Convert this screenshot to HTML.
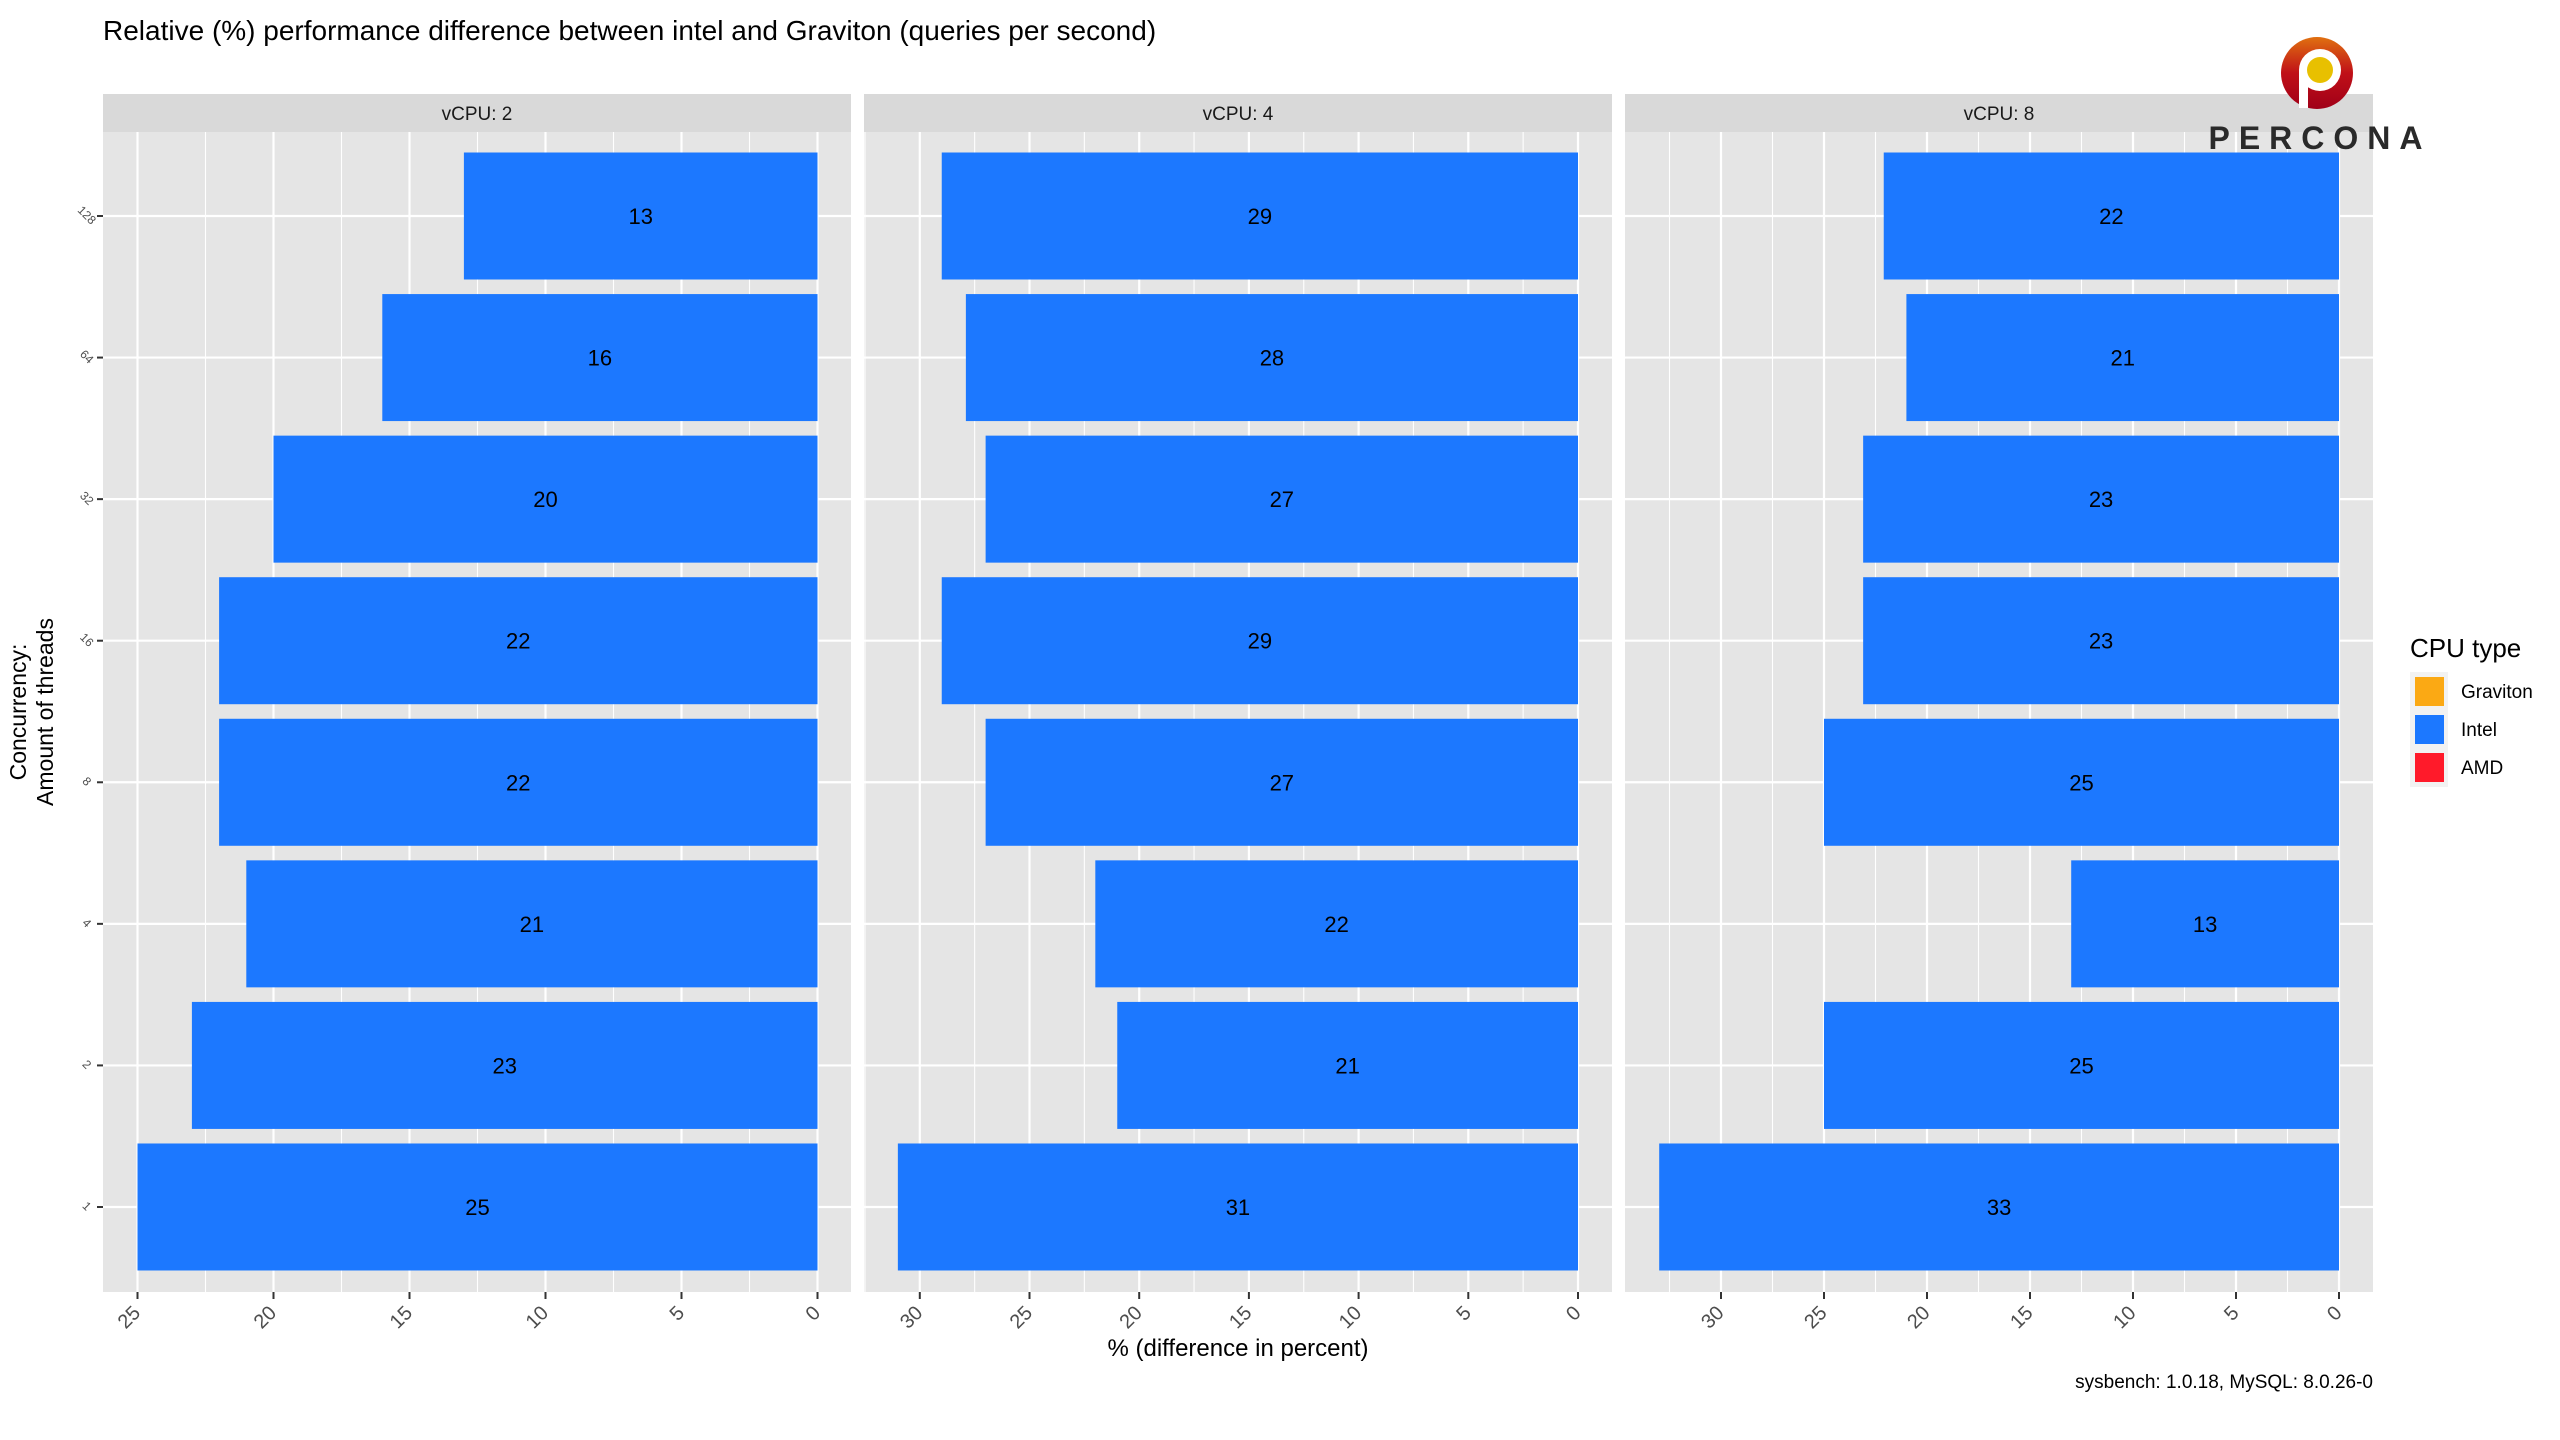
<!DOCTYPE html>
<html><head><meta charset="utf-8"><style>
html,body{margin:0;padding:0;background:#fff;}
svg{display:block;font-family:"Liberation Sans",Arial,sans-serif;}
</style></head><body>
<svg id="s" width="2560" height="1440" viewBox="0 0 2560 1440" xmlns="http://www.w3.org/2000/svg">
<rect width="2560" height="1440" fill="#fff"/>
<text x="103" y="40" font-size="28" fill="#000">Relative (%) performance difference between intel and Graviton (queries per second)</text>
<g id="g"></g>
<text transform="translate(32,712) rotate(-90)" text-anchor="middle" font-size="23" fill="#000"><tspan x="0" dy="-6">Concurrency:</tspan><tspan x="0" dy="27">Amount of threads</tspan></text>
<text x="1238" y="1356" text-anchor="middle" font-size="24" fill="#000">% (difference in percent)</text>
<text x="2373" y="1388" text-anchor="end" font-size="19" fill="#000">sysbench: 1.0.18, MySQL: 8.0.26-0</text>
<text x="2410" y="657" font-size="26" fill="#000">CPU type</text>
<rect x="2410" y="672" width="38" height="115" fill="#f2f2f2"/>
<rect x="2415" y="677" width="29" height="29" fill="#FBA914"/>
<rect x="2415" y="715" width="29" height="29" fill="#1C78FF"/>
<rect x="2415" y="753" width="29" height="29" fill="#FF1A2A"/>
<text x="2461" y="698" font-size="19" fill="#000">Graviton</text>
<text x="2461" y="736" font-size="19" fill="#000">Intel</text>
<text x="2461" y="774" font-size="19" fill="#000">AMD</text>
<defs><linearGradient id="lg" x1="0" y1="0" x2="0" y2="1"><stop offset="0" stop-color="#E07010"/><stop offset="0.5" stop-color="#C01018"/><stop offset="1" stop-color="#A00018"/></linearGradient></defs>
<circle cx="2317" cy="73" r="36" fill="url(#lg)"/>
<circle cx="2320" cy="70" r="21" fill="#fff"/>
<rect x="2299" y="70" width="9" height="38" fill="#fff"/>
<circle cx="2320" cy="70" r="13" fill="#E8C000"/>
<text x="2320" y="149" text-anchor="middle" font-size="32" font-weight="bold" fill="#2a2a2a" letter-spacing="9">PERCONA</text>
</svg>
<script>
(function(){
var g=document.getElementById('g'),h='';
var panels=[
 {x0:103,lab:'vCPU: 2',zero:817.5,ppu:27.2,max:25,v:[13,16,20,22,22,21,23,25]},
 {x0:864,lab:'vCPU: 4',zero:1578,ppu:21.94,max:30,v:[29.0,27.9,27.0,29.0,27.0,22.0,21.0,31.0],l:[29,28,27,29,27,22,21,31]},
 {x0:1625,lab:'vCPU: 8',zero:2339,ppu:20.6,max:30,v:[22.1,21.0,23.1,23.1,25.0,13.0,25.0,33.0],l:[22,21,23,23,25,13,25,33]}
];
var cats=['128','64','32','16','8','4','2','1'];
var pt=132,pb=1292,W=748;
panels.forEach(function(p,pi){
 h+='<rect x="'+p.x0+'" y="94" width="'+W+'" height="38" fill="#d9d9d9"/>';
 h+='<text x="'+(p.x0+W/2)+'" y="120" text-anchor="middle" font-size="19" fill="#1a1a1a">'+p.lab+'</text>';
 h+='<rect x="'+p.x0+'" y="'+pt+'" width="'+W+'" height="'+(pb-pt)+'" fill="#e5e5e5"/>';
 for(var t=0;t<=p.max+2.5;t+=2.5){var x=p.zero-t*p.ppu;if(x<p.x0)continue;
  var major=(t%5===0)&&t<=p.max;
  h+='<line x1="'+x+'" x2="'+x+'" y1="'+pt+'" y2="'+pb+'" stroke="#fff" stroke-width="'+(major?2.2:1.1)+'"/>';
  if(major){h+='<line x1="'+x+'" x2="'+x+'" y1="'+pb+'" y2="'+(pb+7)+'" stroke="#333" stroke-width="2"/>';
   h+='<text transform="translate('+(x+4)+','+(pb+22)+') rotate(-45)" text-anchor="end" font-size="20" fill="#4d4d4d">'+t+'</text>';}
 }
 cats.forEach(function(c,i){var y=216+i*141.57;
  h+='<line x1="'+p.x0+'" x2="'+(p.x0+W)+'" y1="'+y+'" y2="'+y+'" stroke="#fff" stroke-width="2.2"/>';});
 cats.forEach(function(c,i){var y=216+i*141.57,v=p.v[i],w=v*p.ppu;
  h+='<rect x="'+(p.zero-w)+'" y="'+(y-63.5)+'" width="'+w+'" height="127" fill="#1C78FF"/>';
  h+='<text x="'+(p.zero-w/2)+'" y="'+(y+8)+'" text-anchor="middle" font-size="22" fill="#000">'+(p.l?p.l[i]:v)+'</text>';
  if(pi===0){h+='<line x1="97" x2="103" y1="'+y+'" y2="'+y+'" stroke="#333" stroke-width="2"/>';
   h+='<text transform="translate(84,'+(y+2)+') rotate(45)" text-anchor="middle" font-size="12" fill="#4d4d4d">'+c+'</text>';}
 });
});
g.innerHTML=h;
})();
</script>
</body></html>
